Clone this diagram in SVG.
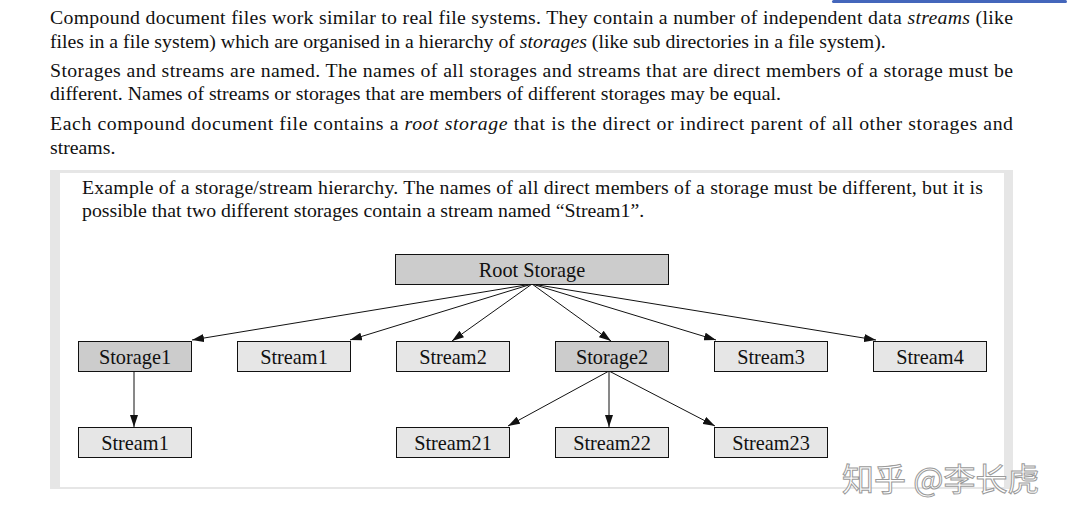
<svg xmlns="http://www.w3.org/2000/svg" width="1067" height="523" viewBox="0 0 1067 523">
<style>
.body{font-family:"Liberation Serif","Times New Roman",serif;font-size:19.8px;fill:#111}
.lbl{font-family:"Liberation Serif","Times New Roman",serif;font-size:20.3px;fill:#111;text-anchor:middle}
.storage{fill:#cccccc;stroke:#111;stroke-width:1}
.stream{fill:#e6e6e6;stroke:#111;stroke-width:1}
.edge{stroke:#111;stroke-width:1;fill:none;marker-end:url(#arr)}
.wm{font-family:"Noto Sans CJK SC","Liberation Sans",sans-serif;font-size:32px;fill:#ffffff;stroke:#9a9a9a;stroke-width:1}
</style>
<defs>
<marker id="arr" markerUnits="userSpaceOnUse" markerWidth="12" markerHeight="8" refX="12" refY="4" orient="auto">
<path d="M0,0 L12,4 L0,8 z" fill="#111"/>
</marker>
</defs>
<rect x="0" y="0" width="1067" height="523" fill="#ffffff"/>
<rect x="832" y="0" width="235" height="3" rx="1.5" fill="#4466bb"/>
<text class="body" x="50" y="24" textLength="963" lengthAdjust="spacing">Compound document files work similar to real file systems. They contain a number of independent data <tspan font-style="italic">streams</tspan> (like</text>
<text class="body" x="50" y="48">files in a file system) which are organised in a hierarchy of <tspan font-style="italic">storages</tspan> (like sub directories in a file system).</text>
<text class="body" x="50" y="77" textLength="963" lengthAdjust="spacing">Storages and streams are named. The names of all storages and streams that are direct members of a storage must be</text>
<text class="body" x="50" y="100">different. Names of streams or storages that are members of different storages may be equal.</text>
<text class="body" x="50" y="130" textLength="963" lengthAdjust="spacing">Each compound document file contains a <tspan font-style="italic">root storage</tspan> that is the direct or indirect parent of all other storages and</text>
<text class="body" x="50" y="154">streams.</text>
<rect x="50" y="170" width="963" height="319" fill="#e6e6e6"/>
<rect x="60" y="173" width="944" height="314" fill="#ffffff"/>
<text class="body" x="82" y="194" textLength="901" lengthAdjust="spacing">Example of a storage/stream hierarchy. The names of all direct members of a storage must be different, but it is</text>
<text class="body" x="82" y="217">possible that two different storages contain a stream named “Stream1”.</text>
<g id="connectors">
<line class="edge" x1="532" y1="284" x2="192" y2="340"/>
<line class="edge" x1="532" y1="284" x2="350" y2="340"/>
<line class="edge" x1="532" y1="284" x2="452" y2="341"/>
<line class="edge" x1="532" y1="284" x2="611" y2="341"/>
<line class="edge" x1="532" y1="284" x2="716" y2="340"/>
<line class="edge" x1="532" y1="284" x2="876" y2="340"/>
<line class="edge" x1="134" y1="371" x2="134" y2="427"/>
<line class="edge" x1="609" y1="371" x2="508" y2="426"/>
<line class="edge" x1="609" y1="371" x2="609" y2="427"/>
<line class="edge" x1="609" y1="371" x2="715" y2="426"/>
</g>
<g id="root"><rect class="storage" x="395.5" y="254.5" width="273" height="30"/><text class="lbl" x="532" y="277">Root Storage</text></g>
<g id="storage1"><rect class="storage" x="78.5" y="341.5" width="113" height="30"/><text class="lbl" x="135" y="364">Storage1</text></g>
<g id="stream1a"><rect class="stream" x="237.5" y="341.5" width="113" height="30"/><text class="lbl" x="294" y="364">Stream1</text></g>
<g id="stream2"><rect class="stream" x="396.5" y="341.5" width="113" height="30"/><text class="lbl" x="453" y="364">Stream2</text></g>
<g id="storage2"><rect class="storage" x="555.5" y="341.5" width="113" height="30"/><text class="lbl" x="612" y="364">Storage2</text></g>
<g id="stream3"><rect class="stream" x="714.5" y="341.5" width="113" height="30"/><text class="lbl" x="771" y="364">Stream3</text></g>
<g id="stream4"><rect class="stream" x="873.5" y="341.5" width="113" height="30"/><text class="lbl" x="930" y="364">Stream4</text></g>
<g id="stream1b"><rect class="stream" x="78.5" y="427.5" width="113" height="30"/><text class="lbl" x="135" y="450">Stream1</text></g>
<g id="stream21"><rect class="stream" x="396.5" y="427.5" width="113" height="30"/><text class="lbl" x="453" y="450">Stream21</text></g>
<g id="stream22"><rect class="stream" x="555.5" y="427.5" width="113" height="30"/><text class="lbl" x="612" y="450">Stream22</text></g>
<g id="stream23"><rect class="stream" x="714.5" y="427.5" width="113" height="30"/><text class="lbl" x="771" y="450">Stream23</text></g>
<text class="wm" x="842" y="491">知乎 @李长虎</text>
</svg>
